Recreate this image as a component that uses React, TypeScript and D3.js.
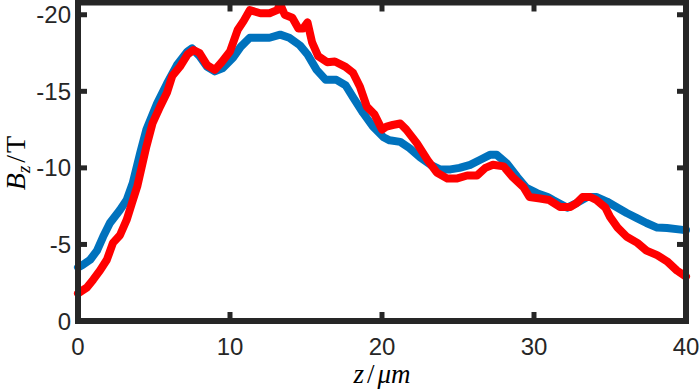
import React, { useEffect, useRef } from 'react';
import * as d3 from 'd3';

// blue trace (z in µm, Bz in T)
const zBlue = [0, 0.3, 0.8, 1.25, 1.65, 2.1, 2.76, 3.2, 3.6, 4.1, 4.5, 5.2, 5.85, 6.5, 7.2, 7.5, 8.0, 8.5, 9.0, 9.5, 10.2, 10.7, 11.3, 12.0, 12.6, 13.3, 13.9, 14.6, 15.1, 15.7, 16.3, 17.0, 17.6, 18.1, 18.75, 19.4, 20.1, 20.5, 21.2, 21.8, 22.5, 23.2, 23.8, 24.5, 25.1, 25.8, 26.4, 27.1, 27.55, 28.2, 28.9, 29.5, 30.2, 30.9, 31.25, 32.2, 32.8, 33.5, 34.1, 34.8, 35.5, 36.1, 36.8, 37.4, 38.1, 38.75, 39.8, 40];
const bBlue = [-3.5, -3.66, -4.0, -4.6, -5.5, -6.4, -7.25, -7.9, -9.0, -11.0, -12.5, -14.2, -15.5, -16.7, -17.6, -17.8, -17.3, -16.6, -16.3, -16.5, -17.2, -17.9, -18.5, -18.5, -18.5, -18.7, -18.5, -18.0, -17.4, -16.4, -15.75, -15.75, -15.4, -14.6, -13.6, -12.7, -12.0, -11.8, -11.7, -11.3, -10.7, -10.2, -9.9, -9.9, -10.0, -10.2, -10.5, -10.85, -10.85, -10.3, -9.4, -8.7, -8.35, -8.1, -7.9, -7.4, -7.7, -8.1, -8.1, -7.8, -7.4, -7.05, -6.7, -6.4, -6.1, -6.07, -5.95, -5.95];

// red trace
const zRed = [0, 0.6, 1.0, 1.45, 1.9, 2.3, 2.76, 3.2, 3.55, 3.9, 4.2, 4.5, 4.9, 5.4, 5.85, 6.2, 6.7, 7.2, 7.6, 8.0, 8.5, 9.0, 9.45, 10.0, 10.5, 10.9, 11.3, 12.0, 12.6, 13.1, 13.3, 13.6, 14.1, 14.5, 14.8, 15.1, 15.4, 15.8, 16.4, 16.9, 17.6, 18.1, 18.55, 19.0, 19.5, 20.0, 20.3, 20.7, 21.2, 21.6, 22.3, 23.0, 23.6, 24.3, 24.9, 25.6, 26.25, 26.8, 27.3, 28.0, 28.6, 29.3, 29.7, 30.4, 31.0, 31.7, 32.4, 32.8, 33.2, 33.7, 34.1, 34.7, 35.0, 35.5, 36.1, 36.8, 37.4, 38.1, 38.75, 39.4, 40];
const bRed = [-1.8, -2.2, -2.7, -3.3, -4.0, -5.1, -5.6, -6.6, -7.7, -8.8, -10.1, -11.4, -12.9, -14.0, -14.9, -16.0, -16.6, -17.4, -17.7, -17.5, -16.7, -16.4, -16.9, -17.6, -19.0, -19.6, -20.3, -20.1, -20.1, -20.3, -20.7, -20.0, -19.8, -19.1, -19.1, -19.5, -18.2, -17.3, -16.9, -16.95, -16.6, -16.2, -15.3, -14.0, -13.5, -12.5, -12.7, -12.8, -12.9, -12.5, -11.6, -10.5, -9.7, -9.3, -9.3, -9.5, -9.5, -10.0, -10.2, -10.1, -9.4, -8.75, -8.1, -8.0, -7.9, -7.45, -7.45, -7.7, -8.1, -8.1, -7.9, -7.4, -6.8, -6.1, -5.5, -5.1, -4.6, -4.3, -3.9, -3.3, -2.9];

const xTicks = [0, 10, 20, 30, 40];
const yTicks = [0, -5, -10, -15, -20];

const App: React.FC = () => {
  const svgRef = useRef<SVGSVGElement>(null);

  useEffect(() => {
    if (!svgRef.current) return;
    const svg = d3.select(svgRef.current);
    svg.selectAll('*').remove();

    const left = 78, right = 686, top = 2.5, bottom = 321;
    const x = d3.scaleLinear().domain([0, 40]).range([left, right]);
    const y = d3.scaleLinear().domain([0, -20.8]).range([bottom, top]);
    const axisColor = '#262626';

    const line = d3
      .line<[number, number]>()
      .x((d) => x(d[0]))
      .y((d) => y(d[1]));

    const series = [
      { z: zBlue, b: bBlue, color: '#0072BD' },
      { z: zRed, b: bRed, color: '#FF0000' },
    ];
    series.forEach((s) => {
      const pts = s.z.map((v, i) => [v, s.b[i]] as [number, number]);
      svg
        .append('path')
        .datum(pts)
        .attr('fill', 'none')
        .attr('stroke', s.color)
        .attr('stroke-width', 8)
        .attr('stroke-linejoin', 'round')
        .attr('stroke-linecap', 'round')
        .attr('d', line as any);
    });

    // box + ticks
    const g = svg.append('g').attr('stroke', axisColor).attr('stroke-width', 5);
    g.append('rect')
      .attr('x', left)
      .attr('y', top)
      .attr('width', right - left)
      .attr('height', bottom - top)
      .attr('fill', 'none')
      .attr('stroke-width', 6);
    xTicks.forEach((t) => {
      g.append('line').attr('x1', x(t)).attr('x2', x(t)).attr('y1', bottom).attr('y2', bottom - 9);
      g.append('line').attr('x1', x(t)).attr('x2', x(t)).attr('y1', top).attr('y2', top + 9);
    });
    yTicks.forEach((t) => {
      g.append('line').attr('y1', y(t)).attr('y2', y(t)).attr('x1', left).attr('x2', left + 9);
      g.append('line').attr('y1', y(t)).attr('y2', y(t)).attr('x1', right).attr('x2', right - 9);
    });

    const font = '"Liberation Sans", Arial, sans-serif';
    xTicks.forEach((t) => {
      svg
        .append('text')
        .attr('x', x(t))
        .attr('y', 355)
        .attr('text-anchor', 'middle')
        .attr('font-family', font)
        .attr('font-size', 24)
        .attr('fill', axisColor)
        .text(String(t));
    });
    yTicks.forEach((t) => {
      svg
        .append('text')
        .attr('x', 71)
        .attr('y', y(t) + 8.5)
        .attr('text-anchor', 'end')
        .attr('font-family', font)
        .attr('font-size', 24)
        .attr('fill', axisColor)
        .text(String(t));
    });

    const serif = '"Liberation Serif", "Times New Roman", serif';
    const xl = svg
      .append('text')
      .attr('x', 382)
      .attr('y', 383)
      .attr('text-anchor', 'middle')
      .attr('font-family', serif)
      .attr('font-size', 27)
      .attr('fill', '#000');
    xl.append('tspan').attr('font-style', 'italic').text('z');
    xl.append('tspan').attr('dx', 3).text('/');
    xl.append('tspan').attr('dx', 3).attr('font-style', 'italic').text('μm');

    const yl = svg
      .append('text')
      .attr('transform', 'translate(25,163) rotate(-90)')
      .attr('text-anchor', 'middle')
      .attr('font-family', serif)
      .attr('font-size', 28)
      .attr('fill', '#000');
    yl.append('tspan').attr('font-style', 'italic').text('B');
    yl.append('tspan').attr('font-style', 'italic').attr('font-size', 19).attr('dy', 5).text('z');
    yl.append('tspan').attr('dy', -5).attr('dx', 3).text('/');
    yl.append('tspan').attr('dx', 2).text('T');
  }, []);

  return (
    <svg
      ref={svgRef}
      width={700}
      height={390}
      style={{ position: 'absolute', left: 0, top: 0, background: '#fff' }}
    />
  );
};

export default App;
